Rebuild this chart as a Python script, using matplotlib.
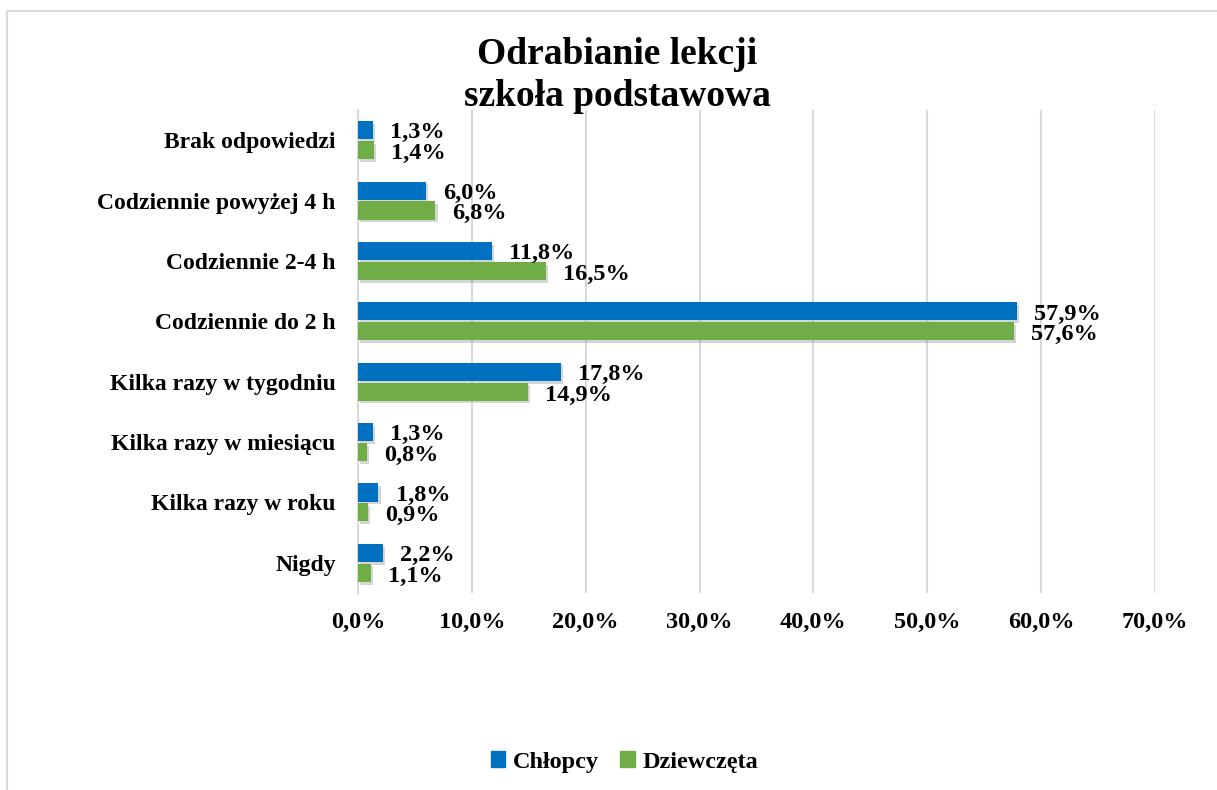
import matplotlib.pyplot as plt
import matplotlib.patches as mpatches
import matplotlib.patheffects as pe
import numpy as np

# dane
categories = ["Brak odpowiedzi", "Codziennie powyżej 4 h", "Codziennie 2-4 h",
              "Codziennie do 2 h", "Kilka razy w tygodniu", "Kilka razy w miesiącu",
              "Kilka razy w roku", "Nigdy"]
chlopcy = [1.3, 6.0, 11.8, 57.9, 17.8, 1.3, 1.8, 2.2]
dziewczeta = [1.4, 6.8, 16.5, 57.6, 14.9, 0.8, 0.9, 1.1]
xticks = [0, 10, 20, 30, 40, 50, 60, 70]

BLUE = "#0070C0"
GREEN = "#70AD47"
FONT = "Liberation Serif"
FS = 17.5

plt.rcParams['font.family'] = FONT
plt.rcParams['font.weight'] = 'bold'

fig = plt.figure(figsize=(12.17, 7.9), dpi=100)
ax = fig.add_axes([358 / 1217, 1 - 593 / 790, (1155 - 358) / 1217, (593 - 110) / 790])

# ramka wykresu
W, H = 1217, 790
fig.patches.append(mpatches.Rectangle((7 / W, -0.05), 1.1, 1 - 11 / H + 0.05,
                                      transform=fig.transFigure, fill=False,
                                      edgecolor="#D9D9D9", linewidth=1.5))

y = np.arange(len(categories))[::-1].astype(float)
h = 0.30
shadow = [pe.SimplePatchShadow(offset=(1.5, -2), shadow_rgbFace="#888888", alpha=0.35),
          pe.Normal()]
b1 = ax.barh(y + 0.165, chlopcy, height=h, color=BLUE, zorder=3)
b2 = ax.barh(y - 0.165, dziewczeta, height=h, color=GREEN, zorder=3)
for b in list(b1) + list(b2):
    b.set_path_effects(shadow)

for yi, v in zip(y, chlopcy):
    ax.text(v + 1.5, yi + 0.12, f"{v:.1f}%".replace(".", ","), va="center",
            ha="left", fontsize=FS, fontweight="bold")
for yi, v in zip(y, dziewczeta):
    ax.text(v + 1.5, yi - 0.22, f"{v:.1f}%".replace(".", ","), va="center",
            ha="left", fontsize=FS, fontweight="bold")

ax.set_xlim(0, 70)
ax.set_ylim(-0.5, len(categories) - 0.5)
ax.set_xticks(xticks)
ax.set_xticklabels([f"{t:.1f}%".replace(".", ",") for t in xticks],
                   fontsize=FS, fontweight="bold")
ax.set_yticks(y)
ax.set_yticklabels(categories, fontsize=17, fontweight="bold")
ax.tick_params(axis="both", length=0)
ax.tick_params(axis="x", pad=14)
ax.tick_params(axis="y", pad=16)
ax.xaxis.grid(True, color="#D9D9D9", linewidth=1.5, zorder=0)
for s in ["top", "right", "bottom"]:
    ax.spines[s].set_visible(False)
ax.spines["left"].set_color("#D9D9D9")
ax.spines["left"].set_linewidth(1.5)

fig.text(0.507, 1 - 55 / H, "Odrabianie lekcji", ha="center", va="center",
         fontsize=27, fontweight="bold")
fig.text(0.507, 1 - 97 / H, "szkoła podstawowa", ha="center", va="center",
         fontsize=27, fontweight="bold")

handles = [mpatches.Patch(color=BLUE, label="Chłopcy"),
           mpatches.Patch(color=GREEN, label="Dziewczęta")]
fig.legend(handles=handles, loc="center", bbox_to_anchor=(0.513, 1 - 762 / H),
           ncol=2, frameon=False, handlelength=0.6,
           handleheight=0.6, handletextpad=0.3, columnspacing=0.9,
           prop={"family": FONT, "weight": "bold", "size": FS})

fig.savefig("out.png", dpi=100)
